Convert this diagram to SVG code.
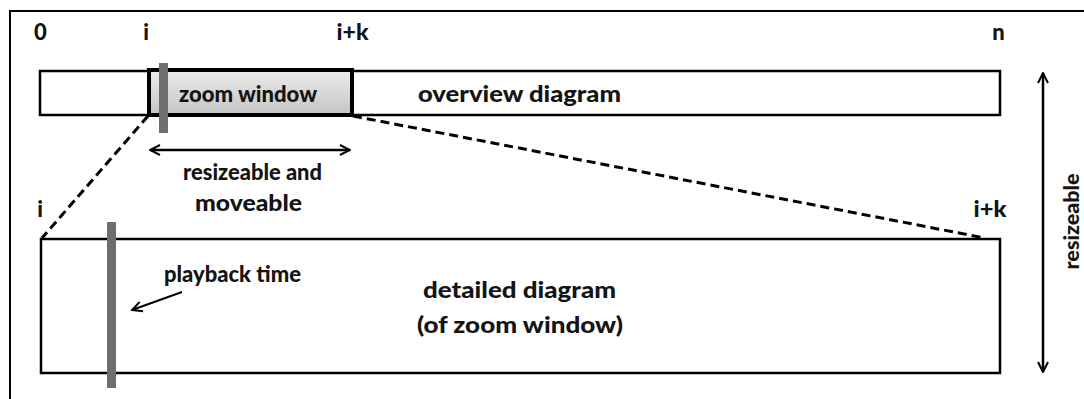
<svg xmlns="http://www.w3.org/2000/svg" width="1084" height="399" viewBox="0 0 1084 399">
<defs>
<linearGradient id="zg" x1="0" y1="0" x2="0" y2="1">
<stop offset="0" stop-color="#ececec"/>
<stop offset="1" stop-color="#c4c4c4"/>
</linearGradient>
<marker id="ah" viewBox="0 0 12 12" refX="11" refY="6" markerWidth="12" markerHeight="12" markerUnits="userSpaceOnUse" orient="auto-start-reverse">
<path d="M1,1 L11,6 L1,11" fill="none" stroke="#000" stroke-width="2"/>
</marker>
</defs>
<style>
text{font-family:Lato,"Liberation Sans",sans-serif;font-weight:900;fill:#141414;font-size:22px}
.box{fill:#fff;stroke:#000;stroke-width:2.5}
.bar{fill:#6e6e6e}
.dash{fill:none;stroke:#000;stroke-width:3;stroke-dasharray:9 5}
.arr{fill:none;stroke:#000;stroke-width:2.5}
</style>
<rect width="1084" height="399" fill="#fff"/>
<path d="M10,399 V11 H1084" fill="none" stroke="#000" stroke-width="2"/>

<g id="labels">
<text x="40.5" y="40" text-anchor="middle">0</text>
<text x="146" y="40" text-anchor="middle">i</text>
<text x="352.5" y="40" textLength="32" lengthAdjust="spacingAndGlyphs" text-anchor="middle">i+k</text>
<text x="998.5" y="40" text-anchor="middle">n</text>
<text x="40" y="217" text-anchor="middle">i</text>
<text x="990" y="217" textLength="33" lengthAdjust="spacingAndGlyphs" text-anchor="middle">i+k</text>
</g>

<g id="overview">
<rect class="box" x="40" y="71" width="960" height="44"/>
<text x="519.5" y="101.5" textLength="203" lengthAdjust="spacingAndGlyphs" text-anchor="middle">overview diagram</text>
</g>

<g id="zoom-window">
<rect x="149" y="70" width="203" height="45" fill="url(#zg)" stroke="#000" stroke-width="4"/>
<text x="248" y="101.5" textLength="138" lengthAdjust="spacingAndGlyphs" text-anchor="middle">zoom window</text>
</g>

<g id="detailed">
<rect class="box" x="41" y="239" width="959" height="134"/>
<text x="519.5" y="297.5" textLength="193" lengthAdjust="spacingAndGlyphs" text-anchor="middle">detailed diagram</text>
<text x="520" y="333" textLength="206" lengthAdjust="spacingAndGlyphs" text-anchor="middle">(of zoom window)</text>
</g>

<g id="connectors">
<path class="dash" d="M148,116 L42,238"/>
<path class="dash" d="M353,116 L985,238"/>
<path class="arr" d="M150,150 H350" marker-start="url(#ah)" marker-end="url(#ah)"/>
<path class="arr" d="M1043,73 V372" marker-start="url(#ah)" marker-end="url(#ah)"/>
<path d="M182,292 L132,310" fill="none" stroke="#000" stroke-width="2" marker-end="url(#ah)"/>
</g>

<g id="zoom-annot">
<text x="252.5" y="180" textLength="139" lengthAdjust="spacingAndGlyphs" text-anchor="middle">resizeable and</text>
<text x="248.5" y="210.5" textLength="107" lengthAdjust="spacingAndGlyphs" text-anchor="middle">moveable</text>
</g>

<g id="playback">
<rect class="bar" x="159" y="63" width="9" height="70"/>
<rect class="bar" x="107" y="222" width="9" height="166"/>
<text x="232.5" y="282" textLength="137" lengthAdjust="spacingAndGlyphs" text-anchor="middle">playback time</text>
</g>

<g id="resize-label">
<text transform="translate(1079,221.5) rotate(-90)" textLength="96" lengthAdjust="spacingAndGlyphs" text-anchor="middle" style="font-size:20px">resizeable</text>
</g>
</svg>
